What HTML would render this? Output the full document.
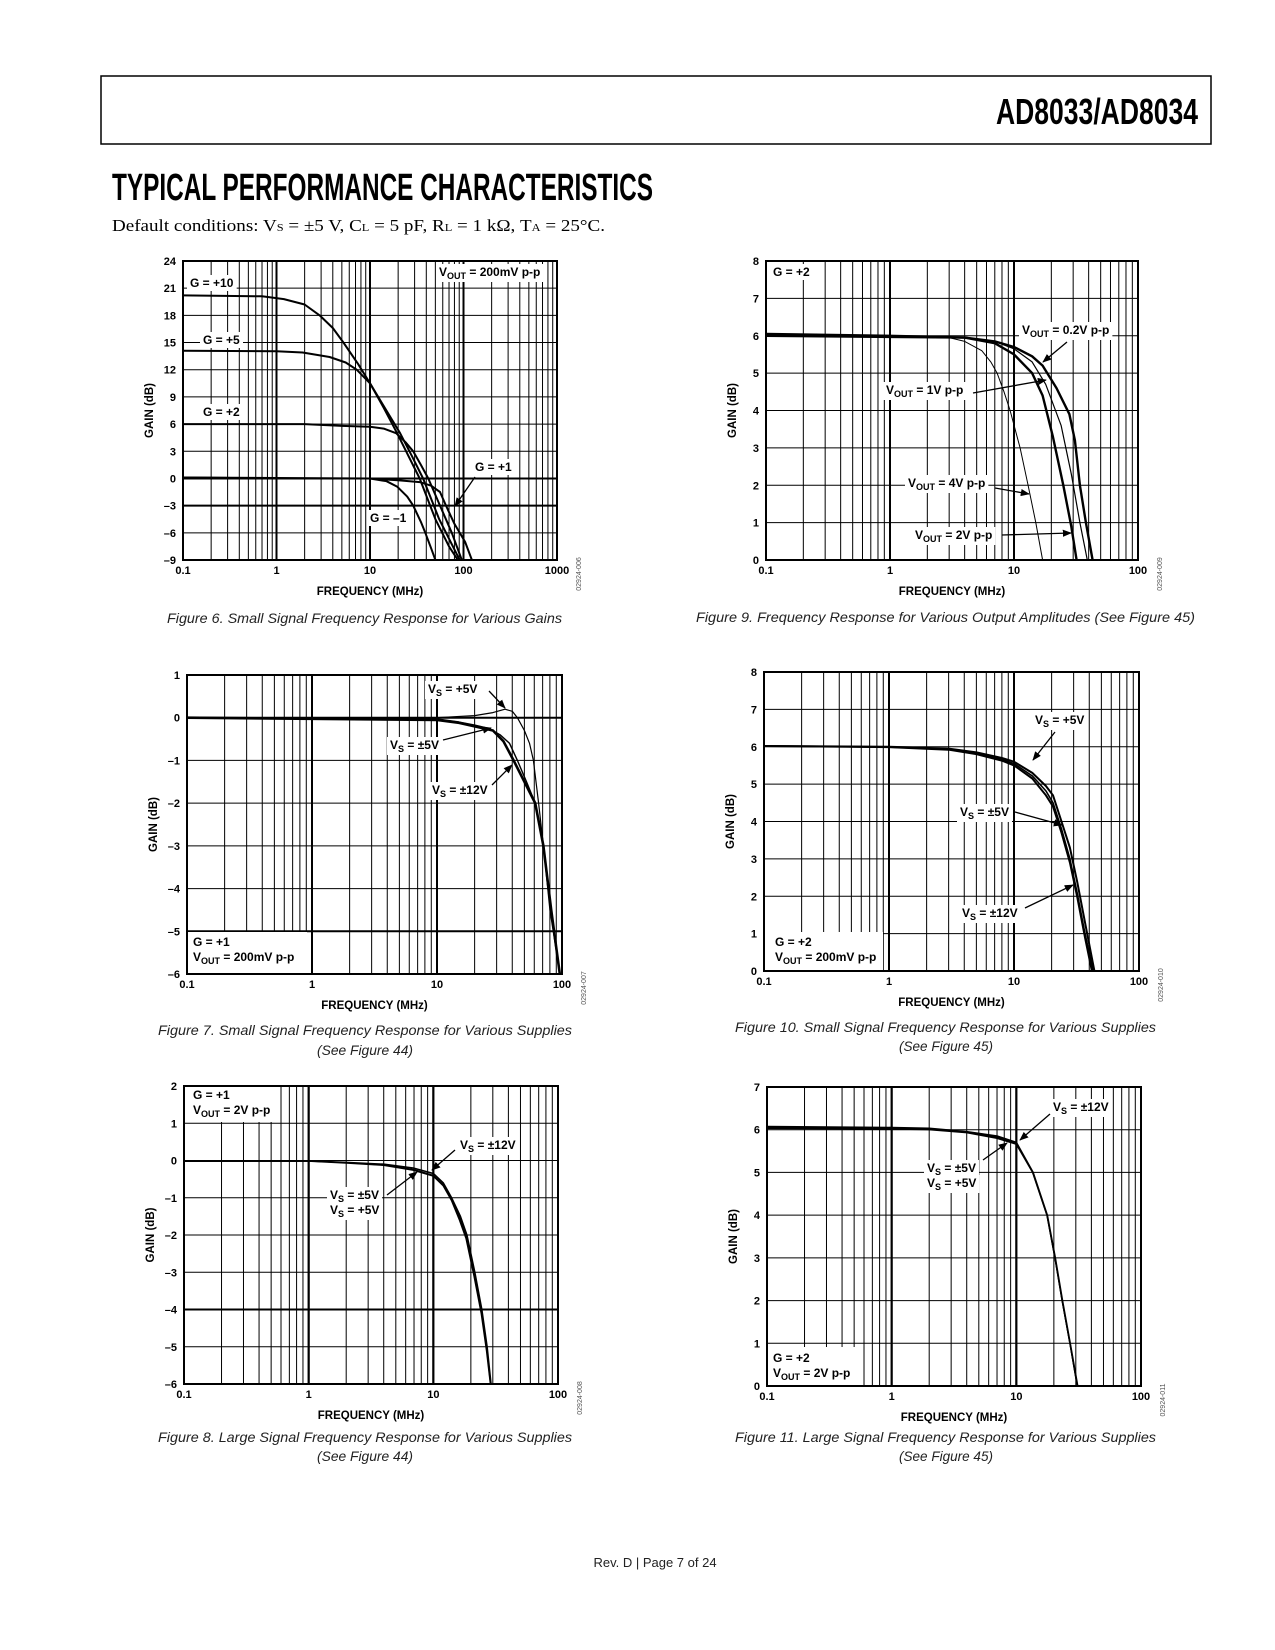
<!DOCTYPE html>
<html><head><meta charset="utf-8"><title>AD8033/AD8034 Typical Performance Characteristics</title>
<style>
html,body{margin:0;padding:0;background:#fff;}
svg{display:block;font-family:"Liberation Sans",Arial,sans-serif;}
.tick{font-size:11px;font-weight:bold;fill:#000;}
.axt{font-size:11.5px;font-weight:bold;fill:#000;}
.ann{font-size:12px;font-weight:bold;fill:#000;}
.sub{font-size:9px;}
.cap{font-size:14px;font-style:italic;fill:#222;}
.code{font-size:7px;fill:#555;}
</style></head>
<body>
<svg id="page" width="1275" height="1650" viewBox="0 0 1275 1650">
<defs>
<marker id="ah" viewBox="0 0 10 10" refX="9" refY="5" markerWidth="7" markerHeight="7" orient="auto"><path d="M0,1 L10,5 L0,9 z" fill="#000"/></marker>
</defs>
<rect x="101" y="76" width="1110" height="68" fill="none" stroke="#000" stroke-width="1.5"/>
<text x="996" y="124" font-size="36" font-weight="bold" textLength="202" lengthAdjust="spacingAndGlyphs">AD8033/AD8034</text>
<text x="112" y="200" font-size="38" font-weight="bold" textLength="541" lengthAdjust="spacingAndGlyphs">TYPICAL PERFORMANCE CHARACTERISTICS</text>
<text x="112" y="231" font-size="17" font-family="Liberation Serif,serif" textLength="493" lengthAdjust="spacingAndGlyphs">Default conditions: V<tspan font-size="11">S</tspan> = ±5 V, C<tspan font-size="11">L</tspan> = 5 pF, R<tspan font-size="11">L</tspan> = 1 kΩ, T<tspan font-size="11">A</tspan> = 25°C.</text>

<g id="charts"></g>
<g id="annbg"></g>

<!-- annotations fig 6 -->
<g>
<text class="ann" x="190" y="287">G = +10</text>
<text class="ann" x="203" y="344">G = +5</text>
<text class="ann" x="203" y="416">G = +2</text>
<text class="ann" x="475" y="471">G = +1</text>
<line x1="475" y1="477" x2="455" y2="506" stroke="#000" stroke-width="1.3" marker-end="url(#ah)"/>
<text class="ann" x="370" y="522">G = –1</text>
<text class="ann" x="439" y="276">V<tspan class="sub" dy="3">OUT</tspan><tspan dy="-3"> = 200mV p-p</tspan></text>
</g>
<!-- fig 9 -->
<g>
<text class="ann" x="773" y="276">G = +2</text>
<text class="ann" x="1022" y="334">V<tspan class="sub" dy="3">OUT</tspan><tspan dy="-3"> = 0.2V p-p</tspan></text>
<line x1="1067" y1="342" x2="1043" y2="362" stroke="#000" stroke-width="1.3" marker-end="url(#ah)"/>
<text class="ann" x="886" y="394">V<tspan class="sub" dy="3">OUT</tspan><tspan dy="-3"> = 1V p-p</tspan></text>
<line x1="973" y1="393" x2="1046" y2="380" stroke="#000" stroke-width="1.3" marker-end="url(#ah)"/>
<text class="ann" x="908" y="487">V<tspan class="sub" dy="3">OUT</tspan><tspan dy="-3"> = 4V p-p</tspan></text>
<line x1="995" y1="488" x2="1029" y2="494" stroke="#000" stroke-width="1.3" marker-end="url(#ah)"/>
<text class="ann" x="915" y="539">V<tspan class="sub" dy="3">OUT</tspan><tspan dy="-3"> = 2V p-p</tspan></text>
<line x1="1002" y1="535" x2="1071" y2="533" stroke="#000" stroke-width="1.3" marker-end="url(#ah)"/>
</g>
<!-- fig 7 -->
<g>
<text class="ann" x="428" y="693">V<tspan class="sub" dy="3">S</tspan><tspan dy="-3"> = +5V</tspan></text>
<line x1="489" y1="691" x2="505" y2="708" stroke="#000" stroke-width="1.3" marker-end="url(#ah)"/>
<text class="ann" x="390" y="749">V<tspan class="sub" dy="3">S</tspan><tspan dy="-3"> = ±5V</tspan></text>
<line x1="443" y1="740" x2="491" y2="728" stroke="#000" stroke-width="1.3" marker-end="url(#ah)"/>
<text class="ann" x="432" y="794">V<tspan class="sub" dy="3">S</tspan><tspan dy="-3"> = ±12V</tspan></text>
<line x1="492" y1="785" x2="512" y2="765" stroke="#000" stroke-width="1.3" marker-end="url(#ah)"/>
<rect x="188" y="932" width="119" height="41" fill="#fff"/>
<text class="ann" x="193" y="946">G = +1</text>
<text class="ann" x="193" y="961">V<tspan class="sub" dy="3">OUT</tspan><tspan dy="-3"> = 200mV p-p</tspan></text>
</g>
<!-- fig 10 -->
<g>
<text class="ann" x="1035" y="724">V<tspan class="sub" dy="3">S</tspan><tspan dy="-3"> = +5V</tspan></text>
<line x1="1055" y1="732" x2="1033" y2="760" stroke="#000" stroke-width="1.3" marker-end="url(#ah)"/>
<text class="ann" x="960" y="816">V<tspan class="sub" dy="3">S</tspan><tspan dy="-3"> = ±5V</tspan></text>
<line x1="1015" y1="812" x2="1062" y2="825" stroke="#000" stroke-width="1.3" marker-end="url(#ah)"/>
<text class="ann" x="962" y="917">V<tspan class="sub" dy="3">S</tspan><tspan dy="-3"> = ±12V</tspan></text>
<line x1="1025" y1="908" x2="1073" y2="885" stroke="#000" stroke-width="1.3" marker-end="url(#ah)"/>
<rect x="765" y="932" width="118" height="38" fill="#fff"/>
<text class="ann" x="775" y="946">G = +2</text>
<text class="ann" x="775" y="961">V<tspan class="sub" dy="3">OUT</tspan><tspan dy="-3"> = 200mV p-p</tspan></text>
</g>
<!-- fig 8 -->
<g>
<rect x="185" y="1087" width="93" height="35" fill="#fff"/>
<text class="ann" x="193" y="1099">G = +1</text>
<text class="ann" x="193" y="1114">V<tspan class="sub" dy="3">OUT</tspan><tspan dy="-3"> = 2V p-p</tspan></text>
<text class="ann" x="460" y="1149">V<tspan class="sub" dy="3">S</tspan><tspan dy="-3"> = ±12V</tspan></text>
<line x1="455" y1="1150" x2="432" y2="1170" stroke="#000" stroke-width="1.3" marker-end="url(#ah)"/>
<text class="ann" x="330" y="1199">V<tspan class="sub" dy="3">S</tspan><tspan dy="-3"> = ±5V</tspan></text>
<text class="ann" x="330" y="1214">V<tspan class="sub" dy="3">S</tspan><tspan dy="-3"> = +5V</tspan></text>
<line x1="387" y1="1195" x2="417" y2="1172" stroke="#000" stroke-width="1.3" marker-end="url(#ah)"/>
</g>
<!-- fig 11 -->
<g>
<text class="ann" x="1053" y="1111">V<tspan class="sub" dy="3">S</tspan><tspan dy="-3"> = ±12V</tspan></text>
<line x1="1050" y1="1114" x2="1020" y2="1140" stroke="#000" stroke-width="1.3" marker-end="url(#ah)"/>
<text class="ann" x="927" y="1172">V<tspan class="sub" dy="3">S</tspan><tspan dy="-3"> = ±5V</tspan></text>
<text class="ann" x="927" y="1187">V<tspan class="sub" dy="3">S</tspan><tspan dy="-3"> = +5V</tspan></text>
<line x1="983" y1="1160" x2="1007" y2="1143" stroke="#000" stroke-width="1.3" marker-end="url(#ah)"/>
<rect x="768" y="1347" width="95" height="38" fill="#fff"/>
<text class="ann" x="773" y="1362">G = +2</text>
<text class="ann" x="773" y="1377">V<tspan class="sub" dy="3">OUT</tspan><tspan dy="-3"> = 2V p-p</tspan></text>
</g>

<!-- captions -->
<text class="cap" x="167" y="623" textLength="395" lengthAdjust="spacingAndGlyphs">Figure 6. Small Signal Frequency Response for Various Gains</text>
<text class="cap" x="696" y="622" textLength="499" lengthAdjust="spacingAndGlyphs">Figure 9. Frequency Response for Various Output Amplitudes (See Figure 45)</text>
<text class="cap" x="158" y="1035" textLength="414" lengthAdjust="spacingAndGlyphs">Figure 7. Small Signal Frequency Response for Various Supplies</text>
<text class="cap" x="317" y="1055" textLength="96" lengthAdjust="spacingAndGlyphs">(See Figure 44)</text>
<text class="cap" x="735" y="1032" textLength="421" lengthAdjust="spacingAndGlyphs">Figure 10. Small Signal Frequency Response for Various Supplies</text>
<text class="cap" x="899" y="1051" textLength="94" lengthAdjust="spacingAndGlyphs">(See Figure 45)</text>
<text class="cap" x="158" y="1442" textLength="414" lengthAdjust="spacingAndGlyphs">Figure 8. Large Signal Frequency Response for Various Supplies</text>
<text class="cap" x="317" y="1461" textLength="96" lengthAdjust="spacingAndGlyphs">(See Figure 44)</text>
<text class="cap" x="735" y="1442" textLength="421" lengthAdjust="spacingAndGlyphs">Figure 11. Large Signal Frequency Response for Various Supplies</text>
<text class="cap" x="899" y="1461" textLength="94" lengthAdjust="spacingAndGlyphs">(See Figure 45)</text>
<text x="655" y="1567" font-size="13" text-anchor="middle" fill="#222">Rev. D | Page 7 of 24</text>
</svg>
<script>
// ---- Figure 6 data (freq MHz, gain dB)
const F6_G10 = [[0.1,20.2],[0.7,20.1],[1.2,19.8],[2,19.2],[2.9,18],[4,16.6],[5.2,15],[7.5,12.6],[10,10.5],[14,7.8],[19.5,5],[26,2.4],[34,0],[50,-4.5],[70,-7.5],[87,-9]];
const F6_G5 = [[0.1,14.1],[1,14.05],[1.9,13.9],[3.7,13.4],[5.5,12.8],[7.2,12],[10,10.5],[14,8],[21,5],[28,2.5],[37,0],[55,-4.5],[91,-9]];
const F6_G2 = [[0.1,6],[2,6],[5,5.8],[10,5.7],[14,5.5],[19,5],[24,4],[29,3],[35,1.5],[42,0],[56,-3],[75,-6],[96,-9]];
const F6_G1 = [[0.1,0.1],[1,0],[10,0],[20,-0.2],[34,-0.4],[45,-0.8],[56,-1.5],[65,-3],[80,-5],[104,-7],[123,-9]];
const F6_GM1 = [[0.1,0.1],[10,0],[15,-0.3],[19.5,-0.9],[25,-2],[29,-3],[35,-4.8],[39,-6],[45,-7.7],[50,-9]];
const F6_YTICKS = [24,21,18,15,12,9,6,3,0,-3,-6,-9];
const F6_XLABELS = ["0.1","1","10","100","1000"];
// ---- Figure 9
const F9_V02 = [[0.1,6.05],[1,6],[4,5.95],[7,5.85],[10,5.7],[14,5.45],[17,5.2],[22,4.6],[28,3.9],[31,3.2],[34,2],[38,1],[43,0]];
const F9_V1 = [[0.1,6],[4,5.95],[7,5.85],[10,5.65],[14,5.3],[18,4.7],[24,3.6],[29,2.3],[34,1],[39,0]];
const F9_V2 = [[0.1,6],[4,5.95],[7,5.8],[10,5.5],[14,5],[17,4.4],[20.6,3.3],[25,2],[29,0.9],[32,0]];
const F9_V4 = [[0.1,6],[3,5.95],[4,5.85],[5.5,5.6],[6.5,5.3],[7.3,5],[8.3,4.5],[9.3,4],[11.2,3],[13,2],[15,1],[17,0]];
const F9_YTICKS = [0,1,2,3,4,5,6,7,8];
const F9_XLABELS = ["0.1","1","10","100"];
// ---- Figure 7
const F7_P5 = [[0.1,0],[10,0],[20,0.05],[28,0.12],[35,0.2],[40,0.15],[44,0],[50,-0.3],[55,-0.6],[59,-1],[65,-2],[71,-3],[80,-4.5],[96,-6]];
const F7_PM5 = [[0.1,0],[10,-0.03],[15,-0.1],[20,-0.17],[26,-0.25],[32,-0.4],[38,-0.6],[44,-1],[52,-1.5],[61,-2],[71,-3],[82,-4.5],[96,-6]];
const F7_PM12 = [[0.1,0],[10,-0.05],[15,-0.12],[20,-0.2],[28,-0.3],[34,-0.55],[41,-1],[50,-1.5],[61,-2],[71,-3],[82,-4.5],[96,-6]];
const F7_YTICKS = [1,0,-1,-2,-3,-4,-5,-6];
const F7_XLABELS = ["0.1","1","10","100"];
// ---- Figure 10
const F10_P5 = [[0.1,6.02],[1,6],[3,5.95],[5,5.85],[8,5.7],[10,5.6],[14,5.3],[18,4.95],[20.5,4.7],[24,4],[28,3.3],[32,2.4],[37,1.3],[44,0]];
const F10_PM5 = [[0.1,6.02],[1,5.99],[3,5.93],[5,5.82],[8,5.66],[10,5.55],[14,5.22],[18,4.82],[20.5,4.5],[24,3.8],[28,3.0],[32,2.1],[37,1.0],[43,0]];
const F10_PM12 = [[0.1,6.02],[1,5.99],[3,5.92],[5,5.8],[8,5.63],[10,5.5],[14,5.15],[18,4.7],[20.5,4.4],[24,3.7],[28,2.9],[32,2.0],[37,0.9],[42,0]];
const F10_YTICKS = [0,1,2,3,4,5,6,7,8];
const F10_XLABELS = ["0.1","1","10","100"];
// ---- Figure 8
const F8_PM12 = [[0.1,-0.02],[1,-0.01],[2,-0.05],[4,-0.1],[6.9,-0.2],[10,-0.35],[12,-0.6],[14,-1],[16.5,-1.5],[18.6,-2],[21.5,-3],[24.5,-4],[27,-5],[29,-6]];
const F8_PM5 = [[0.1,-0.02],[1,-0.01],[2,-0.06],[4,-0.12],[6.9,-0.24],[10,-0.4],[12,-0.65],[14,-1.05],[16.3,-1.55],[18.4,-2.05],[21.3,-3.05],[24.3,-4.05],[26.8,-5.05],[28.8,-6]];
const F8_P5 = [[0.1,-0.02],[1,-0.02],[2,-0.07],[4,-0.13],[6.9,-0.26],[10,-0.42],[12,-0.68],[14,-1.08],[16.2,-1.6],[18.3,-2.1],[21.2,-3.1],[24.2,-4.1],[26.7,-5.1],[28.7,-6]];
const F8_YTICKS = [2,1,0,-1,-2,-3,-4,-5,-6];
const F8_XLABELS = ["0.1","1","10","100"];
// ---- Figure 11
const F11_PM12 = [[0.1,6.07],[1,6.05],[2,6.03],[4,5.95],[7,5.85],[10,5.7],[13.6,5],[17.7,4],[20.5,3],[23.4,2],[27,1],[31,0]];
const F11_PM5 = [[0.1,6.03],[1,6.02],[2,6.0],[4,5.93],[7,5.8],[10,5.66],[13.5,5],[17.6,4],[20.4,3],[23.3,2],[26.9,1],[30.8,0]];
const F11_P5 = [[0.1,6.04],[1,6.03],[2,6.01],[4,5.94],[7,5.82],[10,5.68],[13.55,5],[17.65,4],[20.45,3],[23.35,2],[26.95,1],[30.9,0]];
const F11_YTICKS = [0,1,2,3,4,5,6,7];
const F11_XLABELS = ["0.1","1","10","100"];

const NS = "http://www.w3.org/2000/svg";
const root = document.getElementById('charts');
function mk(tag, attrs, parent){ const e=document.createElementNS(NS,tag); for(const k in attrs) e.setAttribute(k,attrs[k]); parent.appendChild(e); return e; }

function drawChart(cfg){
  const g = mk('g',{},root);
  
  
  const L=cfg.L,R=cfg.R,T=cfg.T,B=cfg.B;
  const nDec = cfg.xLabels.length-1;
  const yMin = Math.min.apply(null,cfg.yTicks), yMax = Math.max.apply(null,cfg.yTicks);
  const xs = f => L + (R-L)*Math.log10(f/0.1)/nDec;
  const ys = v => B - (B-T)*(v-yMin)/(yMax-yMin);
  for(let d=0; d<nDec; d++){
    for(let m=1;m<=10;m++){
      const f = 0.1*Math.pow(10,d)*m;
      const x = xs(f);
      const ln = mk('line',{x1:x,x2:x,y1:T,y2:B,stroke:'#000','stroke-width':(m===1||m===10)?2:1},g);
      
      
    }
  }
  cfg.yTicks.forEach(v=>{
    const y = ys(v);
    const ln = mk('line',{x1:L,x2:R,y1:y,y2:y,stroke:'#000','stroke-width':cfg.thickY.indexOf(v)>=0?2:1},g);
    
    
    const t = mk('text',{x:L-7,y:y+4,'text-anchor':'end','class':'tick'},g);
    t.textContent = v<0 ? '\u2013'+Math.abs(v) : String(v);
    
    
  });
  cfg.xLabels.forEach((s,i)=>{
    const x = xs(0.1*Math.pow(10,i));
    const t = mk('text',{x:x,y:B+14,'text-anchor':'middle','class':'tick'},g);
    t.textContent = s;
    
    
  });
  const fr = mk('rect',{x:L,y:T,width:R-L,height:B-T,fill:'none',stroke:'#000','stroke-width':2},g);
  
  
  const xt = mk('text',{x:(L+R)/2,y:B+35,'text-anchor':'middle','class':'axt'},g);
  xt.textContent = 'FREQUENCY (MHz)';
  
  
  const yt = mk('text',{x:0,y:0,'text-anchor':'middle','class':'axt',transform:'translate('+(L-30)+','+((T+B)/2)+') rotate(-90)'},g);
  yt.textContent = 'GAIN (dB)';
  
  
  const cd = mk('text',{x:0,y:0,'text-anchor':'middle','class':'code',transform:'translate('+(R+24)+','+(B+14)+') rotate(-90)'},g);
  cd.textContent = cfg.code;
  
  
  const cid = cfg.name+'-clip';
  const cp = mk('clipPath',{id:cid},g);
  mk('rect',{x:L,y:T-2,width:R-L,height:B-T+4},cp);
  cfg.series.forEach(s=>{
    const pts = s.data.map(p=>xs(p[0]).toFixed(1)+','+ys(p[1]).toFixed(1)).join(' ');
    const pl = mk('polyline',{points:pts,fill:'none',stroke:'#000','stroke-width':s.w,'stroke-linejoin':'round','clip-path':'url(#'+cid+')'},g);
    
    
  });
}

drawChart({name:'fig6-chart',L:183,R:557,T:261,B:560,yTicks:F6_YTICKS,xLabels:F6_XLABELS,thickY:[0,-3],code:'02924-006',
  series:[{name:'series-g10',data:F6_G10,w:2},{name:'series-g5',data:F6_G5,w:2},{name:'series-g2',data:F6_G2,w:2},{name:'series-g1',data:F6_G1,w:2},{name:'series-g-minus1',data:F6_GM1,w:2}]});
drawChart({name:'fig9-chart',L:766,R:1138,T:261,B:560,yTicks:F9_YTICKS,xLabels:F9_XLABELS,thickY:[],code:'02924-009',
  series:[{name:'series-vout-0.2v',data:F9_V02,w:2.4},{name:'series-vout-1v',data:F9_V1,w:1.2},{name:'series-vout-2v',data:F9_V2,w:2.4},{name:'series-vout-4v',data:F9_V4,w:1}]});
drawChart({name:'fig7-chart',L:187,R:562,T:675,B:974,yTicks:F7_YTICKS,xLabels:F7_XLABELS,thickY:[0,-5],code:'02924-007',
  series:[{name:'series-vs-plus5',data:F7_P5,w:1.2},{name:'series-vs-pm5',data:F7_PM5,w:1.4},{name:'series-vs-pm12',data:F7_PM12,w:2.6}]});
drawChart({name:'fig10-chart',L:764,R:1139,T:672,B:971,yTicks:F10_YTICKS,xLabels:F10_XLABELS,thickY:[],code:'02924-010',
  series:[{name:'series-vs-plus5',data:F10_P5,w:2},{name:'series-vs-pm5',data:F10_PM5,w:1.6},{name:'series-vs-pm12',data:F10_PM12,w:2}]});
drawChart({name:'fig8-chart',L:184,R:558,T:1086,B:1384,yTicks:F8_YTICKS,xLabels:F8_XLABELS,thickY:[-4],code:'02924-008',
  series:[{name:'series-vs-pm12',data:F8_PM12,w:1.6},{name:'series-vs-pm5',data:F8_PM5,w:1.4},{name:'series-vs-plus5',data:F8_P5,w:1.4}]});
drawChart({name:'fig11-chart',L:767,R:1141,T:1087,B:1386,yTicks:F11_YTICKS,xLabels:F11_XLABELS,thickY:[],code:'02924-011',
  series:[{name:'series-vs-pm12',data:F11_PM12,w:1.8},{name:'series-vs-pm5',data:F11_PM5,w:1.4},{name:'series-vs-plus5',data:F11_P5,w:1.4}]});

// white boxes behind annotation labels
const bg = document.getElementById('annbg');
document.querySelectorAll('text.ann').forEach(t=>{
  const b = t.getBBox();
  const r = mk('rect',{x:b.x-3,y:b.y-1,width:b.width+6,height:b.height+2,fill:'#fff'},bg);
  
  
});
</script>
</body></html>
